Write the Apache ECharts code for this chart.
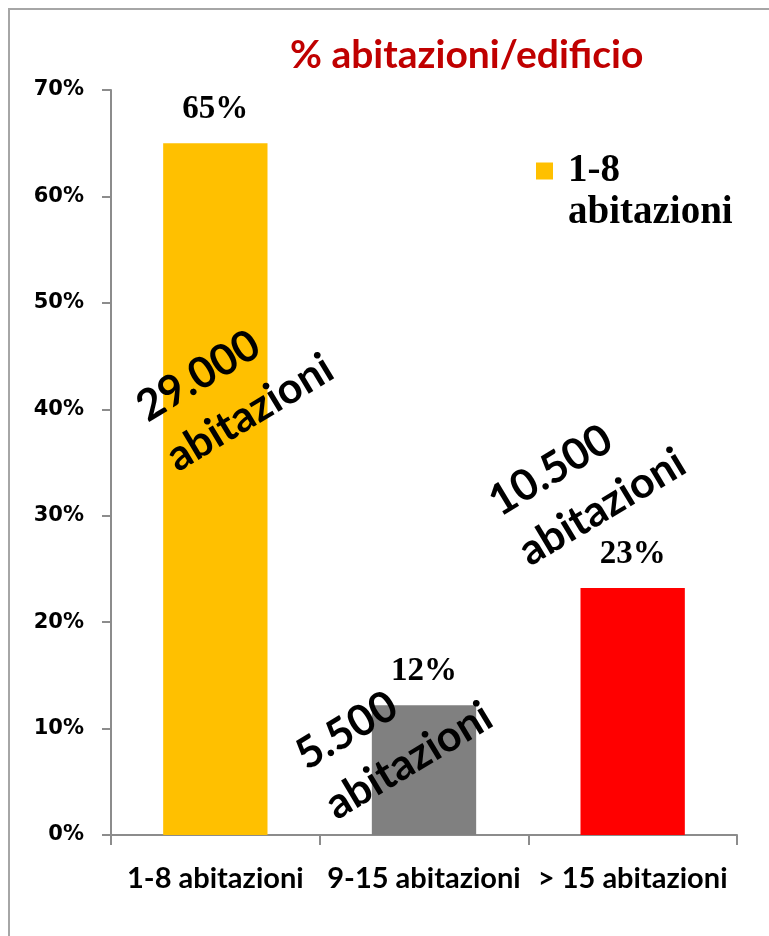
<!DOCTYPE html>
<html><head><meta charset="utf-8">
<script src="https://cdn.jsdelivr.net/npm/echarts/dist/echarts.min.js"></script>
<style>html,body{margin:0;padding:0;background:#fff}#c{width:769px;height:936px}</style>
</head><body><div id="c"></div>
<script>
// ---- data ----
const categories = ['1-8 abitazioni', '9-15 abitazioni', '> 15 abitazioni'];
const shares = [0.65, 0.122, 0.232];
const barColors = ['#FFC000', '#808080', '#FF0000'];
const yTickValues = [0, 0.1, 0.2, 0.3, 0.4, 0.5, 0.6, 0.7];
const yTickLabels = ['0%', '10%', '20%', '30%', '40%', '50%', '60%', '70%'];
const seriesName = '1-8 abitazioni';
const legendLines = ['1-8', 'abitazioni'];
const titleText = '% abitazioni/edificio';
const annotationCounts = ['29.000', '5.500', '10.500'];
const annotationWord = 'abitazioni';
const annotationLevels = [0.409, 0.11, 0.357];

const chart = echarts.init(document.getElementById('c'), null, {renderer: 'canvas'});
const calibri = 'Lato, "Open Sans", sans-serif';
const annotationOffsets = [[23, 0], [-35, 0], [-53, 0]];

chart.setOption({
  animation: false,
  backgroundColor: '#fff',
  title: {
    text: titleText,
    left: 285, top: 31,
    textStyle: {fontFamily: calibri, fontWeight: 'bold', fontSize: 39, color: '#C00000'}
  },
  legend: {
    data: [seriesName],
    left: 536, top: 101, padding: 0,
    icon: 'rect', itemWidth: 17, itemHeight: 17,
    formatter: function () { return '\n' + legendLines.join('\n'); },
    textStyle: {fontFamily: '"Liberation Serif", serif', fontWeight: 'bold', fontSize: 39,
      lineHeight: 42, color: '#000', padding: [14, 0, 0, 10]},
    selectedMode: false
  },
  grid: {left: 111, right: 32, top: 90, bottom: 101, containLabel: false, outerBoundsMode: 'none'},
  xAxis: {
    type: 'category', data: categories,
    axisLine: {show: true, lineStyle: {color: '#8C8C8C', width: 2}},
    axisTick: {show: true, length: 10, alignWithLabel: false, lineStyle: {color: '#8C8C8C', width: 2}},
    axisLabel: {margin: 29, fontFamily: calibri, fontWeight: 'bold', fontSize: 29, color: '#000', interval: 0},
    splitLine: {show: false}
  },
  yAxis: {
    type: 'value', min: 0, max: 0.7, interval: 0.1,
    axisLine: {show: true, lineStyle: {color: '#8C8C8C', width: 2}},
    axisTick: {show: true, length: 9, lineStyle: {color: '#8C8C8C', width: 2}},
    axisLabel: {margin: 27, fontFamily: '"DejaVu Sans", Verdana, sans-serif', fontWeight: 'bold', fontSize: 21, color: '#000',
      formatter: function (v) { const i = yTickValues.findIndex(t => Math.abs(t - v) < 1e-6); return i >= 0 ? yTickLabels[i] : ''; }},
    splitLine: {show: false}
  },
  series: [{
    name: seriesName,
    type: 'bar',
    barWidth: '50%',
    color: barColors[0],
    data: shares.map((v, i) => ({value: v, itemStyle: {color: barColors[i]}})),
    label: {
      show: true, position: 'top', distance: 17,
      fontFamily: '"Liberation Serif", "Times New Roman", serif', fontWeight: 'bold', fontSize: 33, color: '#000',
      formatter: p => Math.round(p.value * 100) + '%'
    },
    markPoint: {
      silent: true,
      symbol: 'circle', symbolSize: 1,
      itemStyle: {color: 'rgba(0,0,0,0)'},
      label: {
        show: true, position: 'inside', rotate: 31, align: 'center', verticalAlign: 'middle',
        color: '#000'
      },
      data: annotationCounts.map((c, i) => ({
        coord: [categories[i], annotationLevels[i]],
        label: {
          offset: annotationOffsets[i],
          formatter: '{a|' + c + '}\n{a|' + annotationWord + '}',
          rich: {a: {align: 'left', fontFamily: calibri, fontWeight: 'bold', fontSize: 43, lineHeight: 58, color: '#000'}}
        }
      }))
    }
  }],
  graphic: [{
    type: 'rect', z: -10, silent: true,
    shape: {x: 9, y: 9, width: 820, height: 1000},
    style: {fill: 'none', stroke: '#A6A6A6', lineWidth: 2}
  }]
});
</script></body></html>
